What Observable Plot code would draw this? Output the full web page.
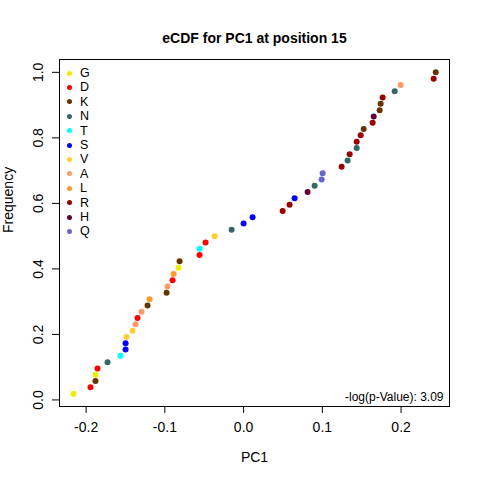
<!DOCTYPE html>
<html>
<head>
<meta charset="utf-8">
<script src="https://cdn.jsdelivr.net/npm/d3@7"></script>
<script src="https://cdn.jsdelivr.net/npm/@observablehq/plot@0.6"></script>
<style>
  html, body { margin: 0; padding: 0; background: #fff; }
  #wrap { position: relative; width: 480px; height: 480px; font-family: "Liberation Sans", Arial, sans-serif; }
  #legend { position: absolute; left: 64px; top: 66px; font-size: 12.5px; color: #000; }
  #legend .row { height: 14.4px; line-height: 14.4px; display: flex; align-items: center; }
  #legend .sw { width: 5px; height: 5px; border-radius: 50%; margin-left: 3px; margin-right: 8px; }
</style>
</head>
<body>
<div id="wrap"></div>
<script>
// PC1 values, sorted, with the amino acid of each point
const pc1 = [-0.2160, -0.1944, -0.1881, -0.1881, -0.1855, -0.1728, -0.1563, -0.1499, -0.1499, -0.1487,
  -0.1410, -0.1372, -0.1347, -0.1296, -0.1220, -0.1194, -0.0978, -0.0966, -0.0902, -0.0889,
  -0.0826, -0.0813, -0.0559, -0.0559, -0.0483, -0.0368, -0.0152, 0.0000, 0.0114, 0.0496,
  0.0584, 0.0648, 0.0813, 0.0902, 0.0991, 0.1004, 0.1245, 0.1321, 0.1347, 0.1436,
  0.1436, 0.1487, 0.1525, 0.1639, 0.1652, 0.1728, 0.1741, 0.1766, 0.1919, 0.1995,
  0.2414, 0.2440];
const residue = ["G","D","K","G","D","N","T","S","S","V",
  "V","A","D","A","K","L","K","A","D","L",
  "G","K","D","T","D","V","N","S","S","R",
  "R","S","H","N","Q","Q","R","N","R","N",
  "R","R","K","R","H","K","K","R","N","A",
  "R","K"];
const legendLabels = ["G","D","K","N","T","S","V","A","L","R","H","Q"];
const legendColors = ["#EEEE00","#FF0000","#663300","#336666","#00FFFF","#0000FF","#FFCC33","#FF9966","#FF9933","#990000","#660033","#6666CC"];
const xTicks = [-0.2, -0.1, 0.0, 0.1, 0.2];
const yTicks = [0.0, 0.2, 0.4, 0.6, 0.8, 1.0];
const title = "eCDF for PC1 at position 15";
const pValueText = "-log(p-Value): 3.09";

const n = pc1.length;
const data = pc1.map((x, i) => ({x, y: (i + 1) / n, aa: residue[i]}));

const plot = Plot.plot({
  width: 480,
  height: 480,
  marginTop: 59,
  marginRight: 31,
  marginBottom: 74,
  marginLeft: 59,
  style: {fontFamily: "Liberation Sans, Arial, sans-serif", fontSize: "14px", color: "#000", background: "#fff"},
  x: {domain: [-0.2338, 0.2615]},
  y: {domain: [-0.02, 1.0392]},
  color: {domain: legendLabels, range: legendColors},
  marks: [
    Plot.frame({stroke: "#000", strokeWidth: 1}),
    Plot.axisX({ticks: xTicks, tickSize: 7, tickPadding: 9, tickFormat: d => d.toFixed(1), label: null, fontSize: 14}),
    Plot.axisY({ticks: yTicks, tickSize: 7, tickPadding: 10, tickFormat: d => d.toFixed(1), tickRotate: -90, label: null, fontSize: 14}),
    Plot.dot(data, {x: "x", y: "y", fill: "aa", r: 3, stroke: null}),
    Plot.text([pValueText], {frameAnchor: "bottom-right", dx: -6, dy: -6, fontSize: 12}),
    Plot.text([title], {frameAnchor: "top", dy: -26, fontSize: 14, fontWeight: "bold"}),
    Plot.text(["PC1"], {frameAnchor: "bottom", dy: 51, lineAnchor: "middle", fontSize: 14}),
    Plot.text(["Frequency"], {frameAnchor: "left", dx: -51, rotate: -90, fontSize: 14})
  ]
});
const wrap = document.getElementById("wrap");
wrap.appendChild(plot);

const legend = document.createElement("div");
legend.id = "legend";
legendLabels.forEach((lab, i) => {
  const row = document.createElement("div");
  row.className = "row";
  const sw = document.createElement("span");
  sw.className = "sw";
  sw.style.background = legendColors[i];
  const t = document.createElement("span");
  t.textContent = lab;
  row.appendChild(sw);
  row.appendChild(t);
  legend.appendChild(row);
});
wrap.appendChild(legend);
</script>
</body>
</html>
